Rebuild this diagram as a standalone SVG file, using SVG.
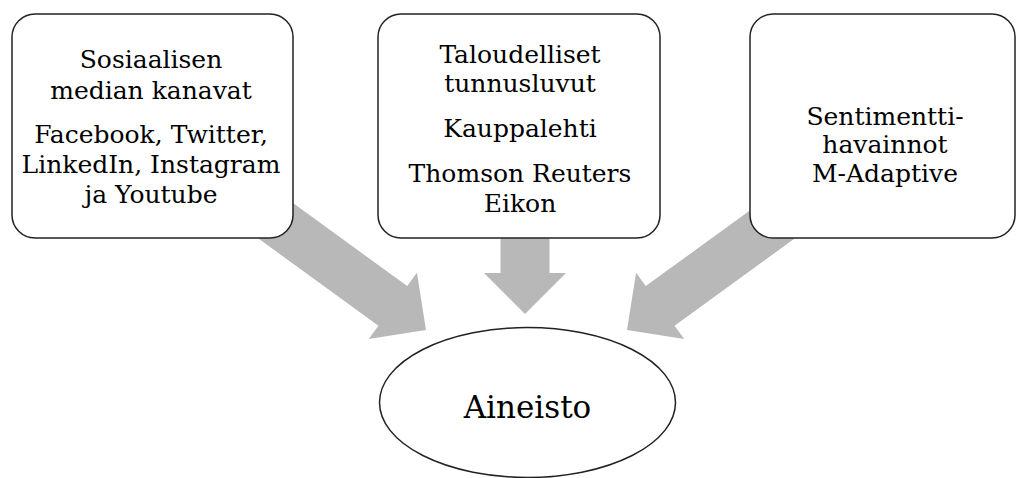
<svg xmlns="http://www.w3.org/2000/svg" width="1017" height="478" viewBox="0 0 1017 478">
<style>
.arrow{fill:#b8b8b8;stroke:none}
.box{fill:#fff;stroke:#222;stroke-width:1.5}
.t{font-family:"DejaVu Serif","Liberation Serif",serif;font-size:25px;fill:#000;text-anchor:middle}
.big{font-size:31px}
</style>
<defs>
<polygon id="arr" points="0,0 -41,-41 -41,-24.5 -220,-24.5 -220,24.5 -41,24.5 -41,41"/>
</defs>
<rect width="1017" height="478" fill="#fff"/>
<g id="connectors">
<use href="#arr" class="arrow" transform="translate(426,330) rotate(36)"/>
<use href="#arr" class="arrow" transform="translate(525,314) rotate(90)"/>
<use href="#arr" class="arrow" transform="translate(627,330) rotate(144)"/>
</g>
<g id="node-social">
<rect class="box" x="12" y="14" width="281" height="224" rx="23"/>
<text class="t" x="151" y="68">Sosiaalisen</text>
<text class="t" x="151" y="99">median kanavat</text>
<text class="t" x="151" y="143">Facebook, Twitter,</text>
<text class="t" x="151" y="173">LinkedIn, Instagram</text>
<text class="t" x="151" y="203">ja Youtube</text>
</g>
<g id="node-finance">
<rect class="box" x="378" y="14" width="282" height="224" rx="23"/>
<text class="t" x="520" y="63">Taloudelliset</text>
<text class="t" x="520" y="92">tunnusluvut</text>
<text class="t" x="520" y="137">Kauppalehti</text>
<text class="t" x="520" y="182">Thomson Reuters</text>
<text class="t" x="520" y="212">Eikon</text>
</g>
<g id="node-sentiment">
<rect class="box" x="750" y="14" width="265" height="224" rx="23"/>
<text class="t" x="885" y="125">Sentimentti-</text>
<text class="t" x="885" y="153">havainnot</text>
<text class="t" x="885" y="182">M-Adaptive</text>
</g>
<g id="node-aineisto">
<ellipse class="box" cx="527.5" cy="402.5" rx="148" ry="75"/>
<text class="t big" x="527.5" y="418">Aineisto</text>
</g>
</svg>
